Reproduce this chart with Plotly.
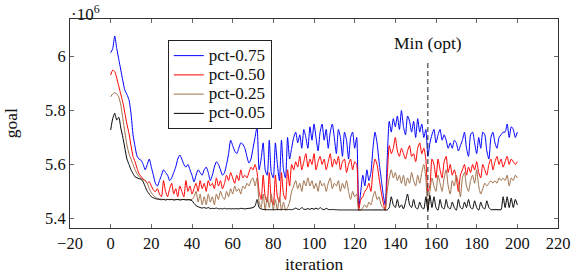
import plotly.graph_objects as go

# iteration index 0..200
iterations = list(range(201))

# goal values, in units of 1e6 (axis shows ·10^6)
pct_075 = [
    6.015, 6.03, 6.077, 6.03, 5.99, 5.95, 5.91, 5.875, 5.86, 5.84,
    5.79, 5.71, 5.666, 5.63, 5.62, 5.615, 5.60, 5.58, 5.60, 5.62,
    5.59, 5.56, 5.53, 5.52, 5.54, 5.56, 5.58, 5.57, 5.56, 5.54,
    5.55, 5.57, 5.59, 5.62, 5.635, 5.62, 5.60, 5.59, 5.60, 5.58,
    5.56, 5.535, 5.56, 5.58, 5.57, 5.56, 5.58, 5.59, 5.57, 5.54,
    5.56, 5.59, 5.61, 5.60, 5.58, 5.56, 5.57, 5.60, 5.64, 5.69,
    5.67, 5.65, 5.64, 5.66, 5.68, 5.675, 5.66, 5.63, 5.605, 5.62,
    5.66, 5.70, 5.74, 5.58, 5.62, 5.68, 5.58, 5.56, 5.69, 5.57,
    5.55, 5.68, 5.60, 5.54, 5.69, 5.58, 5.55, 5.70, 5.62, 5.66,
    5.70, 5.72, 5.68, 5.71, 5.66, 5.73, 5.70, 5.66, 5.74, 5.69,
    5.75, 5.70, 5.65, 5.72, 5.75, 5.69, 5.73, 5.66, 5.72, 5.75,
    5.70, 5.64, 5.73, 5.70, 5.63, 5.72, 5.69, 5.62, 5.70, 5.72,
    5.66, 5.70, 5.44, 5.50, 5.56, 5.52, 5.58, 5.54, 5.57, 5.66,
    5.72, 5.68, 5.61, 5.55, 5.49, 5.45, 5.62, 5.76, 5.72, 5.77,
    5.74, 5.78, 5.73, 5.80, 5.74, 5.71, 5.78, 5.76, 5.72, 5.76,
    5.70, 5.77, 5.72, 5.75, 5.70, 5.73, 5.63, 5.68, 5.71, 5.73,
    5.68, 5.71, 5.73, 5.69, 5.71, 5.69, 5.66, 5.68, 5.66, 5.69,
    5.68, 5.65, 5.67, 5.69, 5.72, 5.66, 5.63, 5.71, 5.72, 5.68,
    5.64, 5.70, 5.66, 5.72, 5.71, 5.65, 5.62, 5.70, 5.72, 5.68,
    5.66, 5.70, 5.71, 5.72, 5.72, 5.75, 5.70, 5.74, 5.73, 5.70,
    5.72,
]

pct_050 = [
    5.932, 5.95, 5.945, 5.92, 5.89, 5.86, 5.83, 5.79, 5.75, 5.715,
    5.67, 5.63, 5.61, 5.585, 5.565, 5.555, 5.545, 5.54, 5.53, 5.536,
    5.52, 5.505, 5.499, 5.51, 5.49, 5.48, 5.54, 5.50, 5.48, 5.51,
    5.53, 5.49, 5.51, 5.48, 5.52, 5.50, 5.48, 5.54, 5.50, 5.52,
    5.49, 5.51, 5.53, 5.50, 5.54, 5.51, 5.53, 5.50, 5.54, 5.52,
    5.53, 5.51, 5.55, 5.52, 5.54, 5.51, 5.53, 5.56, 5.54, 5.57,
    5.55, 5.53, 5.56, 5.54, 5.58, 5.55, 5.56, 5.55, 5.57, 5.59,
    5.58, 5.60, 5.57, 5.50, 5.47, 5.56, 5.48, 5.46, 5.57, 5.47,
    5.45, 5.56, 5.48, 5.46, 5.57, 5.49, 5.47, 5.58, 5.52, 5.60,
    5.58, 5.61, 5.59, 5.63, 5.58, 5.61, 5.64, 5.59, 5.62, 5.60,
    5.64, 5.58, 5.61, 5.63, 5.60, 5.62, 5.58, 5.61, 5.64, 5.59,
    5.62, 5.60, 5.63, 5.58, 5.61, 5.62, 5.57, 5.60, 5.62, 5.58,
    5.61, 5.60, 5.43, 5.47, 5.48, 5.50, 5.51, 5.53, 5.50, 5.58,
    5.62, 5.60, 5.55, 5.50, 5.46, 5.43, 5.55, 5.67, 5.64, 5.66,
    5.70, 5.65, 5.63, 5.66, 5.64, 5.62, 5.65, 5.67, 5.63, 5.64,
    5.61, 5.66, 5.68, 5.64, 5.66, 5.62, 5.50, 5.52, 5.62, 5.60,
    5.55, 5.62, 5.58, 5.55, 5.61, 5.63, 5.57, 5.60, 5.56, 5.58,
    5.55, 5.50, 5.56, 5.58, 5.60, 5.56, 5.59, 5.57, 5.60, 5.58,
    5.61, 5.57, 5.55, 5.60, 5.58, 5.56, 5.60, 5.62, 5.58, 5.61,
    5.63, 5.60, 5.62, 5.59, 5.61, 5.63, 5.60, 5.62, 5.61, 5.60,
    5.61,
]

pct_025 = [
    5.851, 5.862, 5.866, 5.862, 5.85, 5.82, 5.77, 5.72, 5.672, 5.64,
    5.62, 5.60, 5.58, 5.565, 5.555, 5.548, 5.542, 5.54, 5.53, 5.51,
    5.495, 5.485, 5.478, 5.474, 5.472, 5.471, 5.47, 5.47, 5.47, 5.47,
    5.47, 5.47, 5.47, 5.47, 5.47, 5.47, 5.47, 5.47, 5.47, 5.47,
    5.47, 5.48, 5.50, 5.46, 5.49, 5.45, 5.48, 5.45, 5.49, 5.46,
    5.48, 5.45, 5.49, 5.47, 5.50, 5.48, 5.47, 5.50, 5.48, 5.51,
    5.49, 5.52, 5.50, 5.51, 5.49, 5.52, 5.51, 5.53, 5.52, 5.54,
    5.55, 5.52, 5.55, 5.46, 5.44, 5.49, 5.43, 5.48, 5.44, 5.49,
    5.43, 5.47, 5.43, 5.48, 5.43, 5.46, 5.43, 5.44, 5.46, 5.50,
    5.52, 5.54, 5.51, 5.53, 5.50, 5.54, 5.52, 5.55, 5.52, 5.54,
    5.51, 5.53, 5.50, 5.54, 5.52, 5.53, 5.50, 5.53, 5.55, 5.51,
    5.53, 5.52, 5.54, 5.50, 5.53, 5.51, 5.54, 5.50, 5.47, 5.50,
    5.48, 5.49, 5.43, 5.43, 5.44, 5.45, 5.44, 5.46, 5.45, 5.48,
    5.50, 5.47, 5.48, 5.45, 5.44, 5.43, 5.50, 5.55, 5.58, 5.55,
    5.57, 5.54, 5.56, 5.53, 5.56, 5.52, 5.55, 5.53, 5.57, 5.54,
    5.52, 5.56, 5.53, 5.57, 5.60, 5.55, 5.43, 5.50, 5.55, 5.52,
    5.50, 5.56, 5.53, 5.50, 5.55, 5.58, 5.52, 5.49, 5.54, 5.52,
    5.56, 5.53, 5.48, 5.55, 5.57, 5.52, 5.50, 5.54, 5.56, 5.53,
    5.58, 5.52, 5.49, 5.51, 5.53, 5.52, 5.53, 5.54, 5.53, 5.54,
    5.53, 5.55, 5.54, 5.55, 5.54, 5.56, 5.52, 5.55, 5.54, 5.56,
    5.55,
]

pct_005 = [
    5.728, 5.77, 5.79, 5.765, 5.775, 5.735, 5.70, 5.66, 5.62, 5.60,
    5.58, 5.566, 5.554, 5.55, 5.547, 5.545, 5.535, 5.517, 5.50, 5.49,
    5.48, 5.476, 5.473, 5.471, 5.47, 5.469, 5.47, 5.468, 5.47, 5.469,
    5.47, 5.468, 5.469, 5.47, 5.468, 5.469, 5.47, 5.468, 5.469, 5.468,
    5.466, 5.455, 5.447, 5.443, 5.44, 5.438, 5.44, 5.437, 5.44, 5.436,
    5.437, 5.436, 5.438, 5.435, 5.436, 5.435, 5.437, 5.435, 5.436, 5.435,
    5.436, 5.435, 5.436, 5.435, 5.437, 5.436, 5.435, 5.436, 5.437, 5.438,
    5.44, 5.445, 5.47, 5.44, 5.435, 5.433, 5.432, 5.432, 5.432, 5.432,
    5.432, 5.432, 5.433, 5.432, 5.432, 5.433, 5.432, 5.432, 5.433, 5.432,
    5.434, 5.438, 5.434, 5.433, 5.44, 5.434, 5.433, 5.436, 5.433, 5.437,
    5.433, 5.438, 5.433, 5.44, 5.434, 5.432, 5.437, 5.433, 5.432, 5.433,
    5.432, 5.432, 5.431, 5.431, 5.431, 5.431, 5.431, 5.431, 5.431, 5.431,
    5.431, 5.431, 5.431, 5.431, 5.431, 5.431, 5.431, 5.431, 5.431, 5.431,
    5.431, 5.431, 5.431, 5.431, 5.431, 5.431, 5.431, 5.44, 5.48, 5.45,
    5.44, 5.47, 5.44, 5.45, 5.435, 5.46, 5.49, 5.45, 5.44, 5.47,
    5.44, 5.435, 5.46, 5.44, 5.435, 5.48, 5.43, 5.485, 5.44, 5.48,
    5.44, 5.43, 5.47, 5.44, 5.435, 5.47, 5.44, 5.435, 5.46, 5.44,
    5.43, 5.47, 5.44, 5.435, 5.46, 5.44, 5.47, 5.44, 5.435, 5.465,
    5.44, 5.43, 5.46, 5.44, 5.435, 5.465, 5.44, 5.432, 5.432, 5.432,
    5.432, 5.432, 5.432, 5.48, 5.44, 5.48, 5.44, 5.475, 5.44, 5.47,
    5.45,
]

series_names = ["pct-0.75", "pct-0.50", "pct-0.25", "pct-0.05"]
series_values = [pct_075, pct_050, pct_025, pct_005]
series_colors = ["#0000ff", "#ff0000", "#a0704a", "#000000"]

x_ticks = [-20, 0, 20, 40, 60, 80, 100, 120, 140, 160, 180, 200, 220]
y_ticks = [5.4, 5.6, 5.8, 6.0]
y_tick_labels = ["5.4", "5.6", "5.8", "6"]

min_opt_iteration = 156
min_opt_label = "Min (opt)"

FONT = "Liberation Serif"
TXT = "#111111"

fig = go.Figure()
for name, vals, color in zip(series_names, series_values, series_colors):
    fig.add_trace(go.Scatter(
        x=iterations, y=vals, mode="lines",
        name='<span style="font-size:17px">' + name + "</span>",
        line=dict(color=color, width=1, shape="spline", smoothing=0.6),
    ))

fig.add_shape(type="line", xref="x", yref="paper",
              x0=min_opt_iteration, x1=min_opt_iteration, y0=0, y1=0.804,
              line=dict(color="#222222", width=1, dash="5px,3px"))

fig.add_annotation(x=min_opt_iteration, xref="x", y=0.887, yref="paper",
                   text=min_opt_label, showarrow=False,
                   font=dict(family=FONT, size=17.5, color=TXT),
                   xanchor="center", yanchor="middle")

fig.add_annotation(x=0, xref="paper", y=1.085, yref="paper",
                   text="·10<sup>6</sup>", showarrow=False,
                   font=dict(family=FONT, size=17, color=TXT),
                   xanchor="left", yanchor="top", borderpad=0)

fig.add_annotation(x=-0.1215, xref="paper", y=0.5, yref="paper",
                   text="goal", textangle=-90, showarrow=False,
                   font=dict(family=FONT, size=17.5, color=TXT),
                   xanchor="center", yanchor="middle")

fig.add_annotation(x=0.5, xref="paper", y=-0.172, yref="paper",
                   text="iteration", showarrow=False,
                   font=dict(family=FONT, size=17.5, color=TXT),
                   xanchor="center", yanchor="middle")

axis_common = dict(
    showline=True, linecolor="#333333", linewidth=1, mirror="ticks",
    ticks="inside", ticklen=4, tickcolor="#666666", tickwidth=1,
    showgrid=False, zeroline=False,
    tickfont=dict(family=FONT, size=16.5, color=TXT),
)

fig.update_xaxes(range=[-20, 220], tickvals=x_ticks, **axis_common)
fig.update_yaxes(range=[5.364, 6.14], tickvals=y_ticks, ticktext=y_tick_labels,
                 **axis_common)

fig.update_layout(
    width=582, height=276,
    margin=dict(l=70, r=18, t=19, b=48),
    paper_bgcolor="white", plot_bgcolor="white",
    font=dict(family=FONT),
    showlegend=True,
    legend=dict(x=0.2004, y=0.8995, xanchor="left", yanchor="top",
                bgcolor="white", bordercolor="#222", borderwidth=1,
                font=dict(family=FONT, size=12.5, color=TXT),
                itemwidth=30, tracegroupgap=0),
)

fig.write_html("out.html",
               config={"displayModeBar": False, "responsive": False},
               post_script="document.body.style.margin='0';")
